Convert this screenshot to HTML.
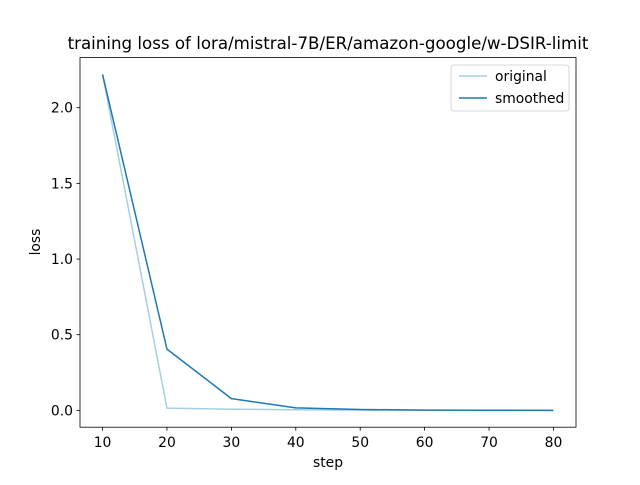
<!DOCTYPE html>
<html><head><meta charset="utf-8"><style>
body{margin:0;background:#fff;}
svg text{font-family:"DejaVu Sans","Liberation Sans",sans-serif;fill:#000;}
</style></head><body>
<svg id="chart" width="640" height="480" xmlns="http://www.w3.org/2000/svg">
<rect width="640" height="480" fill="#fff"/>
<text x="328" y="49" font-size="16.67" text-anchor="middle">training loss of lora/mistral-7B/ER/amazon-google/w-DSIR-limit</text>
<g id="ticks"></g>
<g id="series"></g>
<rect x="80" y="57.6" width="496" height="369.6" fill="none" stroke="#000" stroke-width="0.8"/>
<text x="328" y="467" font-size="13.9" text-anchor="middle">step</text>
<text transform="translate(40,242) rotate(-90)" font-size="13.9" text-anchor="middle">loss</text>
<g>
<rect x="451" y="65" width="118" height="46" rx="3" fill="#fff" stroke="#ccc" stroke-width="0.8"/>
<line x1="459" y1="76" x2="487" y2="76" stroke="#a6cee3" stroke-width="1.5"/>
<text x="495" y="81" font-size="13.9">original</text>
<line x1="459" y1="98" x2="487" y2="98" stroke="#1f78b4" stroke-width="1.5"/>
<text x="495" y="103" font-size="13.9">smoothed</text>
</g>
</svg>
<script>
const steps=[10,20,30,40,50,60,70,80];
const original=[2.22,0.015,0.008,0.004,0.002,0.001,0.0005,0.0003];
const smoothed=[2.22,0.405,0.078,0.017,0.006,0.002,0.001,0.0005];
const xTicks=[10,20,30,40,50,60,70,80];
const yTicks=[0.0,0.5,1.0,1.5,2.0];
const L=80,R=576,T=57.6,B=427.2;
const xmin=6.5,xmax=83.5,ymin=-0.111,ymax=2.331;
const sx=v=>L+(v-xmin)/(xmax-xmin)*(R-L);
const sy=v=>B-(v-ymin)/(ymax-ymin)*(B-T);
const NS="http://www.w3.org/2000/svg";
const tg=document.getElementById('ticks'),sg=document.getElementById('series');
function mk(tag,attrs,parent){const e=document.createElementNS(NS,tag);for(const k in attrs)e.setAttribute(k,attrs[k]);parent.appendChild(e);return e;}
xTicks.forEach(v=>{
 const l=mk('line',{x1:sx(v),x2:sx(v),y1:B,y2:B+3.5,stroke:'#000','stroke-width':0.8},tg);
 
 
 const t=mk('text',{x:sx(v),y:B+20,'font-size':13.9,'text-anchor':'middle'},tg);
 t.textContent=v;
 
 
});
yTicks.forEach(v=>{
 const l=mk('line',{x1:L-3.5,x2:L,y1:sy(v),y2:sy(v),stroke:'#000','stroke-width':0.8},tg);
 
 
 const t=mk('text',{x:L-7,y:sy(v)+5,'font-size':13.9,'text-anchor':'end'},tg);
 t.textContent=v.toFixed(1);
 
 
});
function line(data,color,name){
 const p=mk('polyline',{points:data.map((v,i)=>sx(steps[i])+','+sy(v)).join(' '),fill:'none',stroke:color,'stroke-width':1.5,'stroke-linejoin':'round'},sg);
 
 
}
line(original,'#a6cee3','original-line');
line(smoothed,'#1f78b4','smoothed-line');
</script>
</body></html>
